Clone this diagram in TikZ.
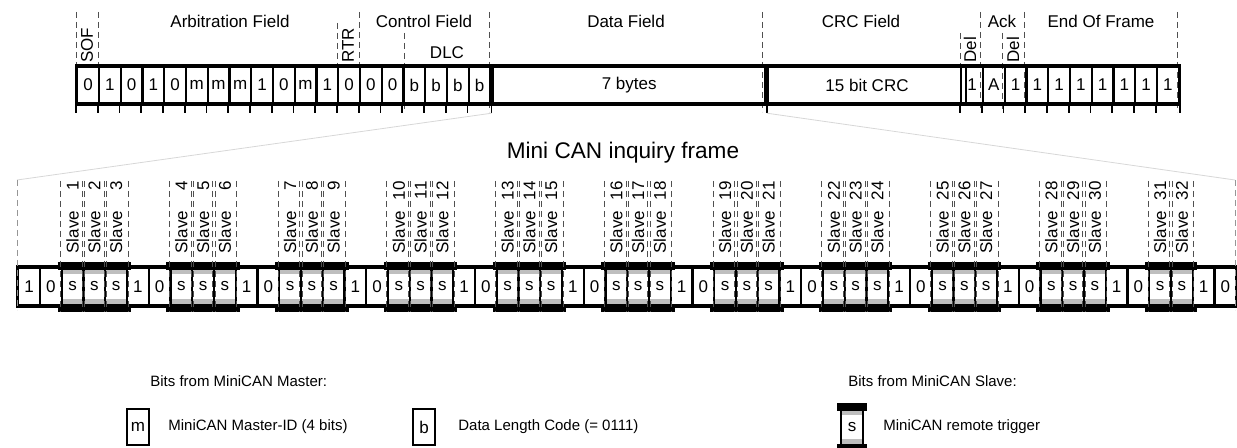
\documentclass[tikz,border=0pt]{standalone}
\usepackage{fontspec}
\setmainfont{Liberation Sans}
\usepackage{tikz}
\usetikzlibrary{positioning, calc, backgrounds}
\definecolor{bandgray}{RGB}{190,190,190}
\definecolor{fangray}{RGB}{215,215,215}
\definecolor{dashgray}{RGB}{80,80,80}
\newcommand{\bitfont}{\fontsize{8.5}{10}\selectfont}
\newcommand{\keyfont}{\fontsize{7.5}{9}\selectfont}

\begin{document}
\begin{tikzpicture}[x=0.5pt, y=-0.5pt,
  bitcell/.style={draw, line width=1.2pt, minimum width=10.875pt, minimum height=18pt, inner sep=0pt, anchor=west, font=\bitfont},
  fieldlabel/.style={font=\bitfont, inner sep=0pt},
  sidelabel/.style={font=\bitfont, rotate=90, anchor=west, inner sep=0pt},
  divider/.style={dashgray, line width=0.5pt, dash pattern=on 3pt off 2pt},
  frameline/.style={line width=1.5pt},
  tick/.style={line width=0.8pt},
  fan/.style={fangray, line width=0.4pt},
  slavebar/.style={line width=4pt},
  keytext/.style={font=\keyfont, anchor=west, inner sep=0pt}]
\useasboundingbox (0,0) rectangle (1237,448);

% CAN data frame
\foreach \x/\y in {76/12, 98/12, 337/23, 359/12, 404/33, 489.25/12, 762/12, 960/33, 980/12, 1002/33, 1024/12, 1177.5/12}
  \draw[divider] (\x,\y) -- (\x,112);
\foreach \b [count=\i from 0] in {0,1,0,1,0,m,m,m,1,0,m,1,0,0,0,b,b,b,b}
  \node[bitcell] (t\i) at ({76+\i*21.75},85) {\b};
\node[bitcell, minimum width=136.375pt] (data) at (t18.east) {7 bytes};
\node[bitcell, minimum width=99pt] (crc) at (data.east) {15 bit CRC};
\foreach \b [count=\i from 0] in {1,A,1,1,1,1,1,1,1,1}
  \node[bitcell] (e\i) at ({960+\i*21.75},85) {\b};
\draw[frameline] (t0.north west) rectangle (e9.south east);
\foreach \n in {t0,t1,t2,t3,t4,t5,t6,t7,t8,t9,t10,t11,t12,t13,t14,t15,t16,t17,t18,data,crc,e0,e1,e2,e3,e4,e5,e6,e7,e8,e9}
  \draw[tick] (\n.south west) -- ++(0,9);
\draw[tick] (e9.south east) -- ++(0,9);

\node[fieldlabel] (arb) at (230,21) {Arbitration Field};
\node[fieldlabel] (ctrl) at (424,21) {Control Field};
\node[fieldlabel] (dlc) at (447,53) {DLC};
\node[fieldlabel] (dfield) at (626,21) {Data Field};
\node[fieldlabel] (crcfield) at (861,21) {CRC Field};
\node[fieldlabel] (ack) at (1002,21) {Ack};
\node[fieldlabel] (eof) at (1101,21) {End Of Frame};
\node[sidelabel] (sof) at (87,63) {SOF};
\node[sidelabel] (rtr) at (348,63) {RTR};
\node[sidelabel] (crcdel) at (970,63) {Del};
\node[sidelabel] (ackdel) at (1013,63) {Del};

% Mini CAN inquiry frame
\coordinate (fanL) at (17,180);
\coordinate (fanR) at (1235,180);
\draw[fan] ($(data.south west)+(0,9)$) -- (fanL);
\draw[fan] ($(data.south east)+(0,9)$) -- (fanR);
\node[font=\fontsize{11.3}{13}\selectfont, inner sep=0pt] (title) at (623,153) {Mini CAN inquiry frame};

\foreach \b [count=\i from 0] in {1,0,s,s,s,1,0,s,s,s,1,0,s,s,s,1,0,s,s,s,1,0,s,s,s,1,0,s,s,s,1,0,s,s,s,1,0,s,s,s,1,0,s,s,s,1,0,s,s,s,1,0,s,s,1,0}
  \node[bitcell, minimum height=18.5pt] (b\i) at ({17+\i*21.75},286.5) {\b};
\draw[frameline] (b0.north west) rectangle (b55.south east);
\draw[divider, dashgray!60] (fanL) -- ++(0,130);
\draw[divider, dashgray!60] (fanR) -- ++(0,130);

\foreach \g in {0,...,10} {
  \pgfmathtruncatemacro\first{5*\g+2}
  \pgfmathtruncatemacro\last{\g<10 ? 5*\g+4 : 5*\g+3}
  \begin{pgfonlayer}{background}
    \fill[bandgray] ($(b\first.north west)+(0,1)$) rectangle ($(b\last.north east)+(0,7)$);
    \fill[bandgray] ($(b\first.south west)+(0,-7)$) rectangle ($(b\last.south east)+(0,-1)$);
  \end{pgfonlayer}
  \draw[slavebar] ($(b\first.north west)+(-3,-1)$) -- ($(b\last.north east)+(3,-1)$);
  \draw[slavebar] ($(b\first.south west)+(-3,1.5)$) -- ($(b\last.south east)+(3,1.5)$);
}

\foreach \n in {1,...,32} {
  \pgfmathtruncatemacro\c{5*int((\n-1)/3)+2+mod(\n-1,3)}
  \draw[divider] ($(b\c.north west)+(0,-86)$) -- ($(b\c.south west)+(0,6)$);
  \draw[divider] ($(b\c.north east)+(0,-86)$) -- ($(b\c.south east)+(0,6)$);
  \node[sidelabel] (slave\n) at ($(b\c.north)+(0,-13)$) {\makebox[36pt]{Slave\hfill\n}};
}

% legend
\node[keytext] (masterkey) at (150,381) {Bits from MiniCAN Master:};
\node[keytext] (slavekey) at (848,381) {Bits from MiniCAN Slave:};
\node[bitcell] (keym) at (126,427) {m};
\node[keytext] (keymtext) at (168,427) {MiniCAN Master-ID (4 bits)};
\node[bitcell] (keyb) at (412,427) {b};
\node[keytext] (keybtext) at (458,427) {Data Length Code (= 0111)};
\node[bitcell] (keys) at (840,427) {s};
\begin{pgfonlayer}{background}
  \fill[bandgray] ($(keys.north west)+(0,1)$) rectangle ($(keys.north east)+(0,7)$);
  \fill[bandgray] ($(keys.south west)+(0,-7)$) rectangle ($(keys.south east)+(0,-1)$);
\end{pgfonlayer}
\draw[slavebar] ($(keys.north west)+(-3,-1)$) -- ($(keys.north east)+(3,-1)$);
\draw[slavebar] ($(keys.south west)+(-3,1.5)$) -- ($(keys.south east)+(3,1.5)$);
\node[keytext] (keystext) at (883,427) {MiniCAN remote trigger};
\end{tikzpicture}
\end{document}
